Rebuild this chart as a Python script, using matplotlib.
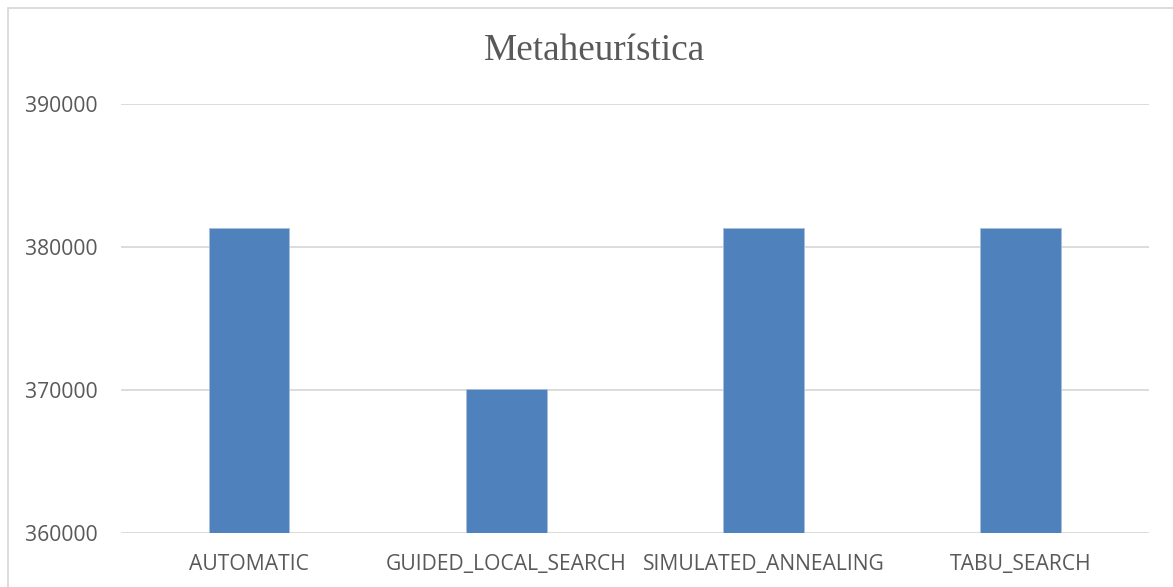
import matplotlib
matplotlib.use("Agg")
from matplotlib import pyplot as plt
from matplotlib.patches import Rectangle

# datos
metodos = ["AUTOMATIC", "GUIDED_LOCAL_SEARCH", "SIMULATED_ANNEALING", "TABU_SEARCH"]
valores = [381350, 370100, 381350, 381350]
ticks_y = [360000, 370000, 380000, 390000]

gris = "#595959"
azul = "#4f81bd"

fig = plt.figure(figsize=(11.73, 5.87), dpi=100)
ax = fig.add_axes([120.7/1173, 1 - 533.3/587, (1149 - 120.7)/1173, (533.3 - 104)/587])

x = list(range(len(metodos)))
ax.bar(x, valores, width=0.313, color=azul, edgecolor="#a7c0de", linewidth=0.6, zorder=3)

ax.set_xlim(-0.5, len(metodos) - 0.5)
ax.set_ylim(360000, 390000)
ax.set_yticks(ticks_y)
ax.set_yticklabels([str(t) for t in ticks_y])
ax.set_xticks(x)
ax.set_xticklabels(metodos)
ax.grid(axis="y", color="#d9d9d9", linewidth=1.3, zorder=0)
for s in ax.spines.values():
    s.set_visible(False)
ax.tick_params(length=0, labelsize=15.2, labelcolor=gris)
ax.tick_params(axis="y", pad=16.5)
ax.tick_params(axis="x", pad=15)
for lab in ax.get_xticklabels() + ax.get_yticklabels():
    lab.set_family("Open Sans")

fig.text(594/1173, 1 - 51/587, "Metaheurística", family="Liberation Serif",
         fontsize=26.8, color=gris, ha="center", va="center")

# borde del area del grafico
fig.patches.append(Rectangle((8/1173, -0.1), 1.2, 1 - 8/587 + 0.1, transform=fig.transFigure,
                             fill=False, edgecolor="#d9d9d9", linewidth=1.3))

fig.savefig("out.png", dpi=100)
